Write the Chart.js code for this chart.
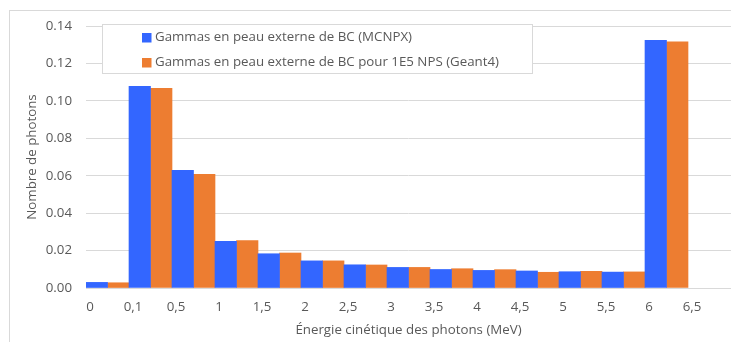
<!DOCTYPE html>
<html lang="fr">
<head>
<meta charset="utf-8">
<title>Spectre des gammas en peau externe de BC</title>
<script src="https://cdn.jsdelivr.net/npm/chart.js@4/dist/chart.umd.min.js"></script>
<style>
  html, body { margin: 0; padding: 0; background: #fff; overflow: hidden; }
  #wrap { position: relative; width: 731px; height: 342px; }
  #frame {
    position: absolute; left: 9px; top: 10px; width: 800px; height: 400px;
    border: 1px solid #d9d9d9; box-sizing: border-box;
  }
  #chart { position: absolute; left: 0; top: 0; }
</style>
</head>
<body>
<div id="wrap">
  <div id="frame"></div>
  <canvas id="chart" width="731" height="342"></canvas>
</div>
<script>
// --- Data ---
// bin edges shown under the axis (MeV)
const edgeLabels = ['0', '0,1', '0,5', '1', '1,5', '2', '2,5', '3', '3,5', '4', '4,5', '5', '5,5', '6', '6,5'];
// one bin per edge, the last one stays empty
const bins = ['0-0,1', '0,1-0,5', '0,5-1', '1-1,5', '1,5-2', '2-2,5', '2,5-3', '3-3,5', '3,5-4', '4-4,5', '4,5-5', '5-5,5', '5,5-6', '6-6,5', ''];
const mcnpx  = [0.0030, 0.1077, 0.0629, 0.0249, 0.0183, 0.0145, 0.0124, 0.0110, 0.0099, 0.0094, 0.0091, 0.0087, 0.0085, 0.1324, null];
const geant4 = [0.0028, 0.1067, 0.0608, 0.0254, 0.0187, 0.0145, 0.0123, 0.0110, 0.0103, 0.0098, 0.0084, 0.0089, 0.0086, 0.1315, null];
const yTicks = [0, 0.02, 0.04, 0.06, 0.08, 0.10, 0.12, 0.14];

const FONT = "'Open Sans', 'Noto Sans', sans-serif";
const GREY = '#595959';
const GRID = '#d9d9d9';

// --- Legend box floating over the plot ---
const floatingLegend = {
  id: 'floatingLegend',
  afterDraw(chart) {
    const ctx = chart.ctx;
    const box = { x: 102.5, y: 24.5, w: 430, h: 49 };
    ctx.save();
    ctx.fillStyle = '#ffffff';
    ctx.strokeStyle = GRID;
    ctx.lineWidth = 1;
    ctx.fillRect(box.x, box.y, box.w, box.h);
    ctx.strokeRect(box.x, box.y, box.w, box.h);
    ctx.font = '13.3px ' + FONT;
    ctx.textBaseline = 'middle';
    chart.data.datasets.forEach((ds, i) => {
      const cy = 37.5 + i * 25;
      ctx.fillStyle = ds.backgroundColor;
      ctx.fillRect(142, cy - 4.5, 9.5, 9.5);
      ctx.fillStyle = GREY;
      ctx.fillText(ds.label, 155, cy);
    });
    ctx.restore();
  }
};

// --- Chart.js Integration: grouped histogram ---
const chartCanvas = document.getElementById('chart');
new Chart(chartCanvas, {
  type: 'bar',
  data: {
    labels: bins,
    datasets: [
      {
        label: 'Gammas en peau externe de BC (MCNPX)',
        data: mcnpx,
        backgroundColor: '#3366ff',
        xAxisID: 'x'
      },
      {
        label: 'Gammas en peau externe de BC pour 1E5 NPS (Geant4)',
        data: geant4,
        backgroundColor: '#ed7d31',
        xAxisID: 'x'
      }
    ]
  },
  options: {
    responsive: false,
    animation: false,
    devicePixelRatio: 1,
    layout: { padding: { top: 26, left: 0, right: 0, bottom: 0 } },
    datasets: { bar: { barPercentage: 1, categoryPercentage: 1 } },
    plugins: {
      legend: { display: false },
      tooltip: { enabled: false }
    },
    scales: {
      // bars sit on this hidden category axis
      x: {
        type: 'category',
        display: false,
        offset: true
      },
      // edge labels drawn on a linear axis spanning the same bins
      edges: {
        type: 'linear',
        position: 'bottom',
        offset: false,
        min: 0,
        max: bins.length,
        afterBuildTicks(scale) {
          scale.ticks = edgeLabels.map((_, i) => ({ value: i }));
        },
        afterFit(scale) { scale.height = 54; },
        grid: { display: false, drawTicks: false, offset: false },
        border: { display: true, color: GRID, width: 1 },
        ticks: {
          autoSkip: false,
          maxRotation: 0,
          padding: 11,
          labelOffset: 4,
          color: GREY,
          font: { family: FONT, size: 13.3 },
          callback: (v) => edgeLabels[v] ?? ''
        },
        title: {
          display: true,
          text: 'Énergie cinétique des photons (MeV)',
          color: GREY,
          font: { family: FONT, size: 13.3 },
          padding: { top: 0, bottom: 4 }
        }
      },
      y: {
        min: 0,
        max: 0.14,
        afterBuildTicks(scale) {
          scale.ticks = yTicks.map(v => ({ value: v }));
        },
        afterFit(scale) { scale.width = 86; },
        grid: { color: GRID, drawTicks: false },
        border: { display: false },
        ticks: {
          padding: 14,
          color: GREY,
          font: { family: FONT, size: 13.3 },
          callback: (v) => v.toFixed(2)
        },
        title: {
          display: true,
          text: 'Nombre de photons',
          color: GREY,
          font: { family: FONT, size: 13.3 },
          padding: { top: 24, bottom: 0 }
        }
      }
    }
  },
  plugins: [floatingLegend]
});
</script>
</body>
</html>
